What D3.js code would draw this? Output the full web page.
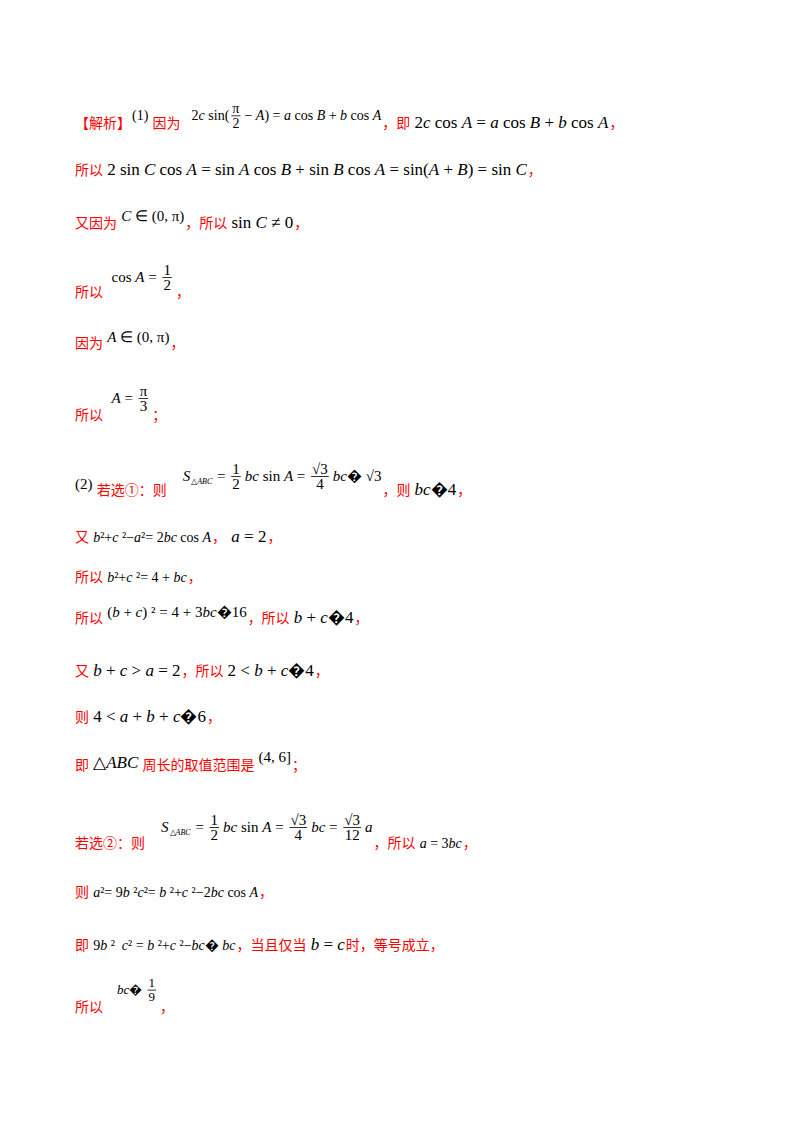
<!DOCTYPE html>
<html><head><meta charset="utf-8">
<script src="https://cdn.jsdelivr.net/npm/d3@7"></script>
<style>body{margin:0;background:#fff} text{white-space:pre}</style>
</head><body>
<svg id="page" width="800" height="1132"></svg>
<script>
// each line: baseline y and a list of segments
// r = red CJK text, m = math, f = fraction [num, den], k = black plain
const lineY = [128, 175, 228, 297, 348, 420, 495, 542, 582, 623, 676, 722, 770, 848, 897, 950, 1012];
const lineSegs = [
  [["r","【解析】"],["k","(1)",-8,14],["r"," 因为 "],["m","  2c sin(",-8,14],["f","π","2",-8,14],["m","− A) = a cos B + b cos A",-8,14],["r","，即 "],["m","2c cos A = a cos B + b cos A"],["r","，"]],
  [["r","所以 "],["m","2 sin C cos A = sin A cos B + sin B cos A = sin(A + B) = sin C"],["r","，"]],
  [["r","又因为 "],["m","C ∈ (0, π)",-7,15],["r","，所以 "],["m","sin C ≠ 0"],["r","，"]],
  [["r","所以"],["m","  cos A = ",-15,15],["f","1","2",-15,15],["r","，"]],
  [["r","因为 "],["m","A ∈ (0, π)",-6,15],["r","，"]],
  [["r","所以"],["m","  A = ",-17,15],["f","π","3",-17,15],["r","；"]],
  [["k","(2)",-6,15],["r"," 若选①：则"],["m","    S",-14,15],["m","△ABC",-11,8],["m"," = ",-14,15],["f","1","2",-14,15],["m","bc sin A = ",-14,15],["f","√3","4",-14,15],["m","bc� √3",-14,15],["r","，则 "],["m","bc�4"],["r","，"]],
  [["r","又 "],["m","b²+c ²−a²= 2bc cos A",0,14],["r","，"],["m"," a = 2"],["r","，"]],
  [["r","所以 "],["m","b²+c ²= 4 + bc",0,14],["r","，"]],
  [["r","所以 "],["m","(b + c) ² = 4 + 3bc�16",-6,15],["r","，所以 "],["m","b + c�4"],["r","，"]],
  [["r","又 "],["m","b + c > a = 2"],["r","，所以 "],["m","2 < b + c�4"],["r","，"]],
  [["r","则 "],["m","4 < a + b + c�6"],["r","，"]],
  [["r","即 "],["m","△ABC",-2,17],["r"," 周长的取值范围是 "],["m","(4, 6]",-8,15],["r","；"]],
  [["r","若选②：则"],["m","    S",-16,15],["m","△ABC",-13,8],["m"," = ",-16,15],["f","1","2",-16,15],["m","bc sin A = ",-16,15],["f","√3","4",-16,15],["m","bc = ",-16,15],["f","√3","12",-16,15],["m","a",-16,15],["r","，所以 "],["m","a = 3bc",0,14],["r","，"]],
  [["r","则 "],["m","a²= 9b ²c²= b ²+c ²−2bc cos A",0,14],["r","，"]],
  [["r","即 "],["m","9b ²  c² = b ²+c ²−bc� bc",0,14],["r","，当且仅当 "],["m","b = c"],["r","时，等号成立，"]],
  [["r","所以"],["m","    bc� ",-18,13],["f","1","9",-18,13],["r","，"]]
];

const svg = d3.select("#page");
const RED = "#ff0000";

function mathText(sel, str) {
  str.split(/(sin|cos|[A-Za-z])/).filter(s => s.length).forEach(p => {
    sel.append("tspan")
      .attr("font-style", /^[A-Za-z]$/.test(p) ? "italic" : "normal")
      .text(p);
  });
}

lineSegs.forEach((segs, i) => {
  const y = lineY[i];
  let x = 75;
  segs.forEach(seg => {
    const kind = seg[0];
    if (kind === "f") {
      const [, num, den, dy0, fs0] = seg;
      const dy = dy0 || 0, fs = fs0 || 15;
      const barY = y + dy - fs * 0.3;
      const tn = svg.append("text").attr("font-family", "Liberation Serif").attr("font-size", fs)
        .attr("y", barY - 3).attr("text-anchor", "middle");
      mathText(tn, num);
      const td = svg.append("text").attr("font-family", "Liberation Serif").attr("font-size", fs)
        .attr("y", barY + fs * 0.85).attr("text-anchor", "middle");
      mathText(td, den);
      const w = Math.max(tn.node().getComputedTextLength(), td.node().getComputedTextLength()) + 4;
      tn.attr("x", x + w / 2);
      td.attr("x", x + w / 2);
      svg.append("line").attr("x1", x + 1).attr("x2", x + w - 1).attr("y1", barY).attr("y2", barY)
        .attr("stroke", "#000").attr("stroke-width", 0.8);
      x += w + 3;
      return;
    }
    const [, str, dy0, fs0] = seg;
    const t = svg.append("text").attr("x", x).attr("y", y + (dy0 || 0));
    if (kind === "r") {
      t.attr("fill", RED).attr("font-family", "Noto Sans CJK SC").attr("font-size", 14).text(str);
    } else if (kind === "k") {
      t.attr("fill", "#000").attr("font-family", "Liberation Serif").attr("font-size", fs0 || 15).text(str);
    } else {
      t.attr("fill", "#000").attr("font-family", "Liberation Serif").attr("font-size", fs0 || 17);
      mathText(t, str);
    }
    x += t.node().getComputedTextLength() + 1;
  });
});
</script>
</body></html>
